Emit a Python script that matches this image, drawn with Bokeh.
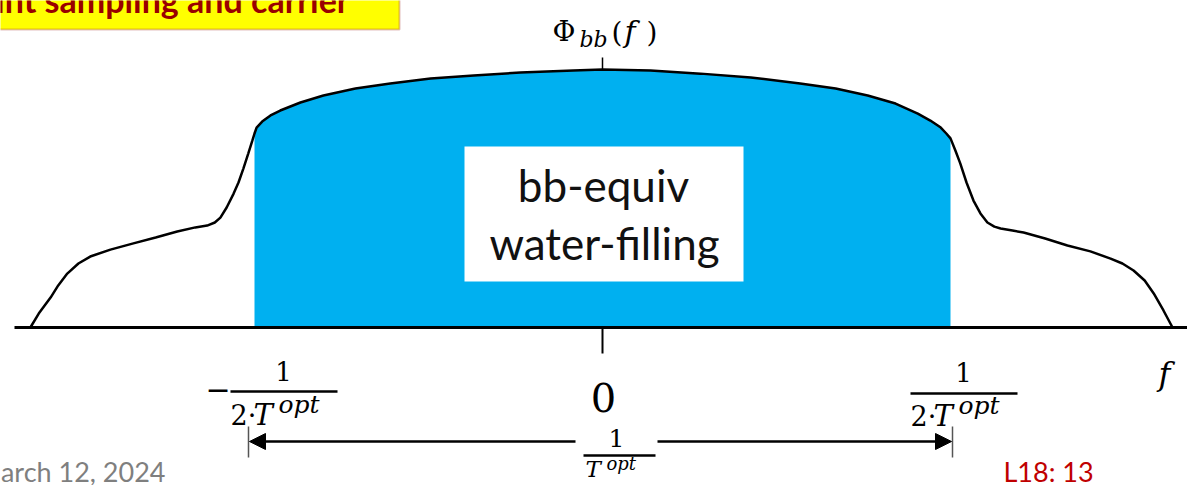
from bokeh.plotting import figure
from bokeh.models import Range1d, Label, BoxAnnotation, Arrow, NormalHead
from bokeh.embed import file_html
from bokeh.resources import INLINE

# ---- data: frequency (units of 1/T_opt) and PSD (normalised to peak) ----
f_left = [-0.822, -0.810, -0.793, -0.782, -0.769, -0.753, -0.736, -0.707, -0.674, -0.642,
          -0.611, -0.585, -0.568, -0.557, -0.549, -0.540, -0.530, -0.523, -0.516, -0.509, -0.503]
psd_left = [0.000, 0.054, 0.116, 0.163, 0.209, 0.248, 0.275, 0.302, 0.326, 0.349,
            0.372, 0.388, 0.395, 0.407, 0.426, 0.465, 0.519, 0.562, 0.616, 0.674, 0.725]

f_band = [-0.500, -0.497, -0.489, -0.477, -0.463, -0.434, -0.401, -0.355, -0.305, -0.247,
          -0.185, -0.118, -0.042, 0.000, 0.069, 0.141, 0.213, 0.284, 0.335, 0.381,
          0.421, 0.453, 0.471, 0.486, 0.494, 0.500]
psd_band = [0.752, 0.775, 0.798, 0.822, 0.841, 0.872, 0.899, 0.926, 0.946, 0.965,
            0.977, 0.988, 0.996, 1.000, 0.996, 0.984, 0.969, 0.946, 0.926, 0.899,
            0.868, 0.829, 0.802, 0.775, 0.752, 0.733]

f_right = [0.507, 0.514, 0.523, 0.533, 0.543, 0.553, 0.563, 0.572, 0.589, 0.605,
           0.636, 0.668, 0.701, 0.730, 0.747, 0.763, 0.779, 0.792, 0.806, 0.819]
psd_right = [0.686, 0.636, 0.562, 0.492, 0.442, 0.407, 0.391, 0.384, 0.376, 0.368,
             0.345, 0.318, 0.295, 0.267, 0.248, 0.221, 0.182, 0.132, 0.066, 0.000]

title_text = "Joint sampling and carrier"
box_lines = ["bb-equiv", "water-filling"]
date_text = "March 12, 2024"
page_text = "L18: 13"

# ---- layout helpers (reference pixel -> data) ----
PX, PY, X0, Y0 = 696.0, 258.0, 602.0, 327.0
def X(px):
    return (px - X0) / PX
def Y(py):
    return (Y0 - py) / PY

W, H = 1187, 485
p = figure(width=W, height=H, output_backend="svg", toolbar_location=None,
           x_range=Range1d(X(0), X(W)), y_range=Range1d(Y(H), Y(0)),
           x_axis_type=None, y_axis_type=None, min_border=0)
p.grid.visible = False
p.outline_line_color = None
p.background_fill_color = "white"
p.border_fill_color = "white"

SERIF = "DejaVu Serif"
SANS = "Lato"
BLUE = "#00B0F0"
K = 0.4  # empirical baseline correction (fraction of font size)

# filled water-filling band
p.varea(x=f_band, y1=[0] * len(f_band), y2=psd_band, fill_color=BLUE)

# PSD curve
f_all = f_left + f_band + f_right
psd_all = psd_left + psd_band + psd_right
p.line(f_all, psd_all, line_color="black", line_width=2.5)

# frequency axis + ticks
p.segment(x0=[X(14)], y0=[0], x1=[X(1210)], y1=[0], line_color="black", line_width=3)
p.segment(x0=[0], y0=[0], x1=[0], y1=[Y(353)], line_color="black", line_width=2)
p.segment(x0=[0], y0=[max(psd_band)], x1=[0], y1=[Y(57)], line_color="black", line_width=1.5)

def lab(text, px, py, size, font=SERIF, style="normal", align="left", color="black"):
    p.add_layout(Label(x=X(px), y=Y(py - K * size), text=text, text_font=font,
                       text_font_size=f"{size}px", text_font_style=style,
                       text_align=align, text_baseline="alphabetic", text_color=color))

# Phi_bb(f)
lab("Φ", 552, 42, 28)
lab("bb", 579, 48, 22, style="italic")
lab("(", 611, 43, 28)
lab("f", 624, 43, 30, style="italic")
lab(")", 646, 43, 28)

# white label box inside band
p.add_layout(BoxAnnotation(left=X(464), right=X(743), top=Y(146), bottom=Y(281),
                           fill_color="white", fill_alpha=1.0, line_color=None))
lab(box_lines[0], 603, 202, 44, font=SANS, align="center", color="#111111")
lab(box_lines[1], 604, 260, 44, font=SANS, align="center", color="#111111")

# -1/(2 T_opt)
lab("−", 205, 400, 30)
lab("1", 283, 381, 26, align="center")
p.segment(x0=[X(230)], y0=[Y(391)], x1=[X(337)], y1=[Y(391)], line_color="black", line_width=2.5)
lab("2·", 230, 426, 27)
lab("T", 253, 426, 29, style="italic")
lab("opt", 278, 414, 25, style="italic")

# +1/(2 T_opt)
lab("1", 963, 382, 26, align="center")
p.segment(x0=[X(910)], y0=[Y(393)], x1=[X(1017)], y1=[Y(393)], line_color="black", line_width=2.5)
lab("2·", 910, 427, 27)
lab("T", 933, 427, 29, style="italic")
lab("opt", 958, 415, 25, style="italic")

# f and 0
lab("f", 1158, 386, 32, style="italic")
lab("0", 603, 413, 40, align="center")

# 1/T_opt span arrows
p.add_layout(Arrow(end=NormalHead(size=16, fill_color="black", line_color="black"),
                   x_start=X(575), y_start=Y(441), x_end=X(249), y_end=Y(441),
                   line_color="black", line_width=2.5))
p.add_layout(Arrow(end=NormalHead(size=16, fill_color="black", line_color="black"),
                   x_start=X(657), y_start=Y(441), x_end=X(951), y_end=Y(441),
                   line_color="black", line_width=2.5))
p.segment(x0=[X(248), X(952)], y0=[Y(426)] * 2, x1=[X(248), X(952)], y1=[Y(457)] * 2,
          line_color="#555555", line_width=1.5)
lab("1", 616, 447, 25, align="center")
p.segment(x0=[X(583)], y0=[Y(455)], x1=[X(655)], y1=[Y(455)], line_color="black", line_width=2.5)
lab("T", 585, 478, 23, style="italic")
lab("opt", 606, 470, 18, style="italic")

# slide furniture
p.add_layout(BoxAnnotation(left=X(-20), right=X(399), top=Y(-20), bottom=Y(29),
                           fill_color="#FFFF00", fill_alpha=1.0, line_color="#A0282A", line_width=2))
lab(title_text, 349, 13, 34, font=SANS, style="bold", align="right", color="#990000")
lab(date_text, 165, 482, 27, font=SANS, align="right", color="#7F7F7F")
lab(page_text, 1003, 482, 27, font=SANS, color="#C00000")

open("out.html", "w").write(file_html(p, INLINE))
